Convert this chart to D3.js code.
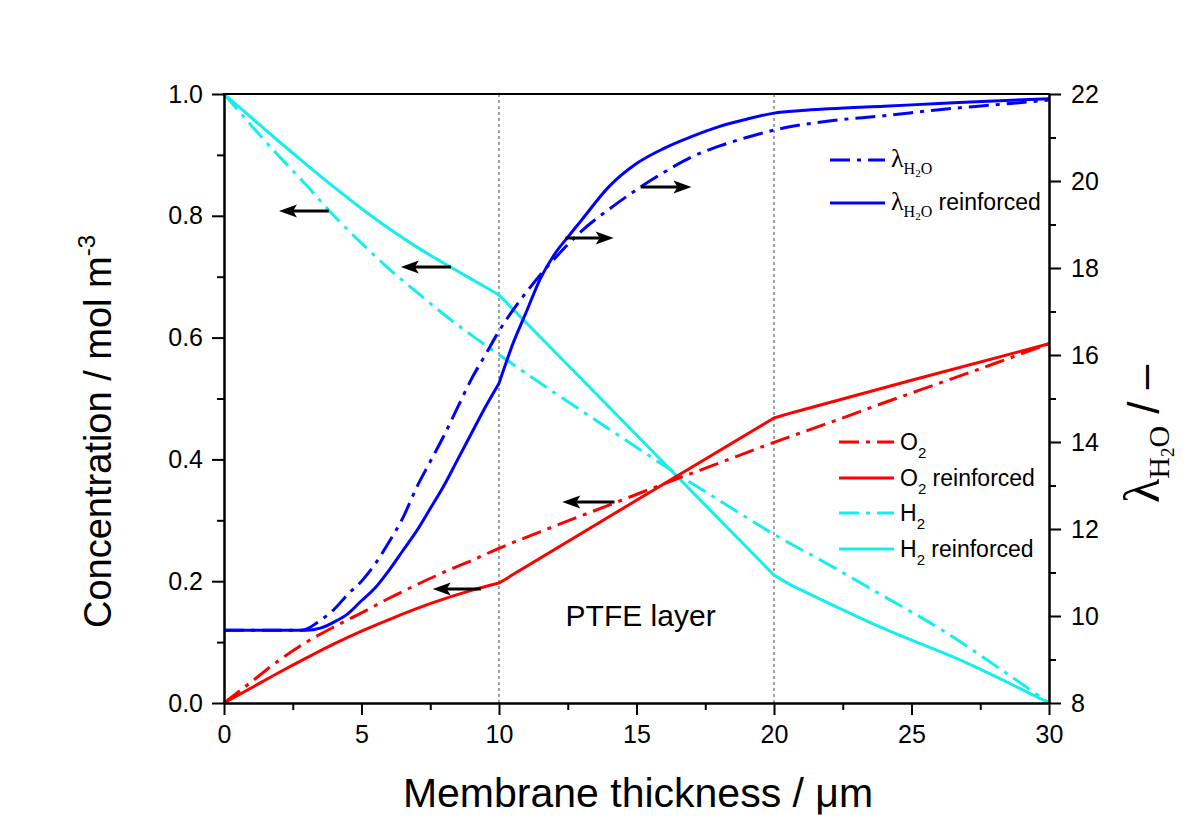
<!DOCTYPE html>
<html><head><meta charset="utf-8">
<script src="https://cdn.jsdelivr.net/npm/d3@7/dist/d3.min.js"></script>
<style>
body{margin:0;background:#fff}
svg{display:block}
text{font-family:Arial,"Liberation Sans",sans-serif;fill:#000}
.serif{font-family:"Liberation Serif","Times New Roman",serif}
</style>
</head><body>
<svg id="c" width="1194" height="836"></svg>
<script>
// ---------- data ----------
const xTicks = [0,5,10,15,20,25,30];
const xMinorTicks = [2.5,7.5,12.5,17.5,22.5,27.5];
const leftTicks = [0,0.2,0.4,0.6,0.8,1.0];
const leftMinorTicks = [0.1,0.3,0.5,0.7,0.9];
const rightTicks = [8,10,12,14,16,18,20,22];
const rightMinorTicks = [9,11,13,15,17,19,21];
const layerBounds = [10,20];

// H2 concentration (left axis)
const h2X = [0,1,2,3,4,5,6,7,8,9,10,12,14,16,18,20,22,24,26,28,30];
const h2Y = [1.0,0.948,0.898,0.85,0.80,0.755,0.713,0.675,0.638,0.604,0.572,0.51,0.45,0.39,0.333,0.277,0.227,0.175,0.123,0.063,0];
const h2ReinfX = [0,1,2,3,4,5,6,7,8,9,10,15,20,20.6,24,27,30];
const h2ReinfY = [1.0,0.961,0.922,0.884,0.847,0.812,0.779,0.749,0.722,0.696,0.670,0.440,0.210,0.194,0.122,0.066,0];

// O2 concentration (left axis)
const o2X = [0,1,2,3,4,5,6,7,8,9,10,12,14,16,18,20,22,24,26,28,30];
const o2Y = [0,0.035,0.07,0.10,0.125,0.148,0.172,0.194,0.215,0.234,0.254,0.29,0.325,0.36,0.394,0.428,0.46,0.493,0.525,0.557,0.59];
const o2ReinfX = [0,1,2,3,4,5,6,7,8,9,10,15,20,20.6,25,30];
const o2ReinfY = [0,0.025,0.05,0.074,0.097,0.118,0.137,0.155,0.171,0.185,0.197,0.333,0.468,0.476,0.53,0.59];

// lambda H2O (right axis)
const lamX = [0,1,2,2.8,3,3.5,4,4.5,5,5.5,6,6.5,7,7.5,8,8.5,9,9.5,10,11,12,13,14,15,16,17,18,19,20,22,24,26,28,30];
const lamY = [9.67,9.67,9.67,9.67,9.70,9.9,10.15,10.5,10.8,11.2,11.7,12.25,12.95,13.55,14.15,14.8,15.45,16.0,16.55,17.45,18.2,18.85,19.35,19.8,20.2,20.55,20.8,21.0,21.17,21.38,21.5,21.64,21.75,21.86];
const lamReinfX = [0,1,2,3,3.5,4,4.5,5,5.5,6,6.5,7,7.5,8,8.5,9,9.5,10,10.5,11,11.5,12,12.5,13,14,15,16,17,18,19,20,21,22,24,26,28,30];
const lamReinfY = [9.67,9.67,9.67,9.67,9.72,9.86,10.05,10.35,10.65,11.05,11.5,11.95,12.47,13.0,13.6,14.2,14.8,15.35,16.25,17.0,17.75,18.3,18.71,19.1,19.87,20.4,20.75,21.02,21.25,21.42,21.56,21.62,21.66,21.72,21.78,21.84,21.89];

// arrows: x tail, x head, y value, axis
const arrowXTail = [3.81,8.25,9.34,14.2,12.42,15.15];
const arrowXHead = [2.0,6.43,7.59,12.3,14.17,17.0];
const arrowYVal  = [0.808,0.716,0.187,0.33,18.69,19.86];
const arrowAxis  = ['L','L','L','L','R','R'];

// ---------- setup ----------
const svg = d3.select('#c');
const x = d3.scaleLinear().domain([0,30]).range([224,1049]);
const yL = d3.scaleLinear().domain([0,1]).range([703,94]);
const yR = d3.scaleLinear().domain([8,22]).range([703,94]);

const BLUE='#0000ff', RED='#ff0000', CYAN='#16eded';
const DASHDOT='20,7,4,7';

const series = [
  {x:h2X, y:h2Y, sc:yL, color:CYAN, dash:DASHDOT, breaks:[]},
  {x:h2ReinfX, y:h2ReinfY, sc:yL, color:CYAN, dash:null, breaks:[10,20,20.6]},
  {x:o2X, y:o2Y, sc:yL, color:RED, dash:DASHDOT, breaks:[]},
  {x:o2ReinfX, y:o2ReinfY, sc:yL, color:RED, dash:null, breaks:[10,20,20.6]},
  {x:lamX, y:lamY, sc:yR, color:BLUE, dash:DASHDOT, breaks:[]},
  {x:lamReinfX, y:lamReinfY, sc:yR, color:BLUE, dash:null, breaks:[10]},
];

// dashed layer boundaries
svg.selectAll('line.bound').data(layerBounds).enter().append('line')
  .attr('x1',d=>x(d)).attr('x2',d=>x(d)).attr('y1',yL(1)).attr('y2',yL(0))
  .attr('stroke','#444').attr('stroke-width',1).attr('stroke-dasharray','3,3');

// curves (smooth between kinks, sharp at kinks)
series.forEach(s=>{
  const pts = s.x.map((v,i)=>[v,s.y[i]]);
  const segs = [];
  let cur = [];
  pts.forEach(p=>{
    cur.push(p);
    if(s.breaks.includes(p[0])){ segs.push(cur); cur=[p]; }
  });
  if(cur.length>1) segs.push(cur);
  const line = d3.line().x(d=>x(d[0])).y(d=>s.sc(d[1])).curve(d3.curveMonotoneX);
  const d = segs.map((sg,k)=>{
    const p = line(sg);
    return k===0 ? p : p.replace(/^M[^LC]*/, 'L'+x(sg[0][0])+','+s.sc(sg[0][1]));
  }).join('');
  svg.append('path').attr('d',d).attr('fill','none')
    .attr('stroke',s.color).attr('stroke-width',3)
    .attr('stroke-dasharray',s.dash).attr('stroke-linejoin','round');
});

// arrows
arrowXTail.forEach((xt,i)=>{
  const sc = arrowAxis[i]==='L'?yL:yR;
  const y0 = sc(arrowYVal[i]);
  const x0 = x(xt), x1 = x(arrowXHead[i]);
  const dir = Math.sign(x1-x0);
  const headLen = 18, headW = 6.5;
  svg.append('line').attr('x1',x0).attr('x2',x1-dir*(headLen-4)).attr('y1',y0).attr('y2',y0)
    .attr('stroke','#000').attr('stroke-width',3);
  svg.append('path').attr('d',`M${x1},${y0} L${x1-dir*headLen},${y0-headW} L${x1-dir*(headLen-4)},${y0} L${x1-dir*headLen},${y0+headW} Z`)
    .attr('fill','#000');
});

// axes
function styleAxis(g){
  g.select('.domain').attr('stroke','#000').attr('stroke-width',2);
  g.selectAll('.tick line').attr('stroke','#000').attr('stroke-width',2);
  g.selectAll('.tick text').attr('font-size',25).attr('font-family','Arial, "Liberation Sans", sans-serif').attr('fill','#000');
}
const gL = svg.append('g').attr('transform',`translate(${x(0)},0)`)
  .call(d3.axisLeft(yL).tickValues(leftTicks).tickFormat(d3.format('.1f')).tickSize(12).tickSizeOuter(0).tickPadding(9));
styleAxis(gL);
const gLm = svg.append('g').attr('transform',`translate(${x(0)},0)`)
  .call(d3.axisLeft(yL).tickValues(leftMinorTicks).tickFormat('').tickSize(7).tickSizeOuter(0));
styleAxis(gLm);

const gB = svg.append('g').attr('transform',`translate(0,${yL(0)})`)
  .call(d3.axisBottom(x).tickValues(xTicks).tickFormat(d3.format('d')).tickSize(12).tickSizeOuter(0).tickPadding(10));
styleAxis(gB);
const gBm = svg.append('g').attr('transform',`translate(0,${yL(0)})`)
  .call(d3.axisBottom(x).tickValues(xMinorTicks).tickFormat('').tickSize(7).tickSizeOuter(0));
styleAxis(gBm);

const gR = svg.append('g').attr('transform',`translate(${x(30)},0)`)
  .call(d3.axisRight(yR).tickValues(rightTicks).tickFormat(d3.format('d')).tickSize(12).tickSizeOuter(0).tickPadding(10));
styleAxis(gR);
const gRm = svg.append('g').attr('transform',`translate(${x(30)},0)`)
  .call(d3.axisRight(yR).tickValues(rightMinorTicks).tickFormat('').tickSize(7).tickSizeOuter(0));
styleAxis(gRm);

// top frame
svg.append('line').attr('x1',x(0)-1).attr('x2',x(30)+1).attr('y1',yL(1)).attr('y2',yL(1))
  .attr('stroke','#000').attr('stroke-width',2);

// axis titles
svg.append('text').attr('x',638).attr('y',807).attr('text-anchor','middle').attr('font-size',41)
  .text('Membrane thickness / μm');

const lt = svg.append('text').attr('transform','translate(111,628) rotate(-90)').attr('font-size',38);
lt.append('tspan').text('Concentration / mol m');
lt.append('tspan').attr('font-size',24).attr('dy',-16).text('-3');

const rt = svg.append('text').attr('transform','translate(1159,503) rotate(-90)');
rt.append('tspan').attr('class','serif').attr('font-size',50).text('λ');
rt.append('tspan').attr('class','serif').attr('font-size',30).attr('dy',10).text('H');
rt.append('tspan').attr('class','serif').attr('font-size',19).attr('dy',5).text('2');
rt.append('tspan').attr('class','serif').attr('font-size',30).attr('dy',-5).text('O');
rt.append('tspan').attr('font-size',44).attr('dy',-10).text(' / –');

// PTFE label
svg.append('text').attr('x',x(15.15)).attr('y',626).attr('text-anchor','middle').attr('font-size',30).text('PTFE layer');

// legends
const legLamSuffix = ['', ' reinforced'];
const legLamDash = [DASHDOT, null];
const legLamY = [160,203];
legLamSuffix.forEach((suffix,i)=>{
  const yy = legLamY[i];
  svg.append('line').attr('x1',830).attr('x2',885).attr('y1',yy).attr('y2',yy)
    .attr('stroke',BLUE).attr('stroke-width',3).attr('stroke-dasharray',legLamDash[i]);
  const t = svg.append('text').attr('x',891).attr('y',yy+7);
  t.append('tspan').attr('class','serif').attr('font-size',26).text('λ');
  t.append('tspan').attr('class','serif').attr('font-size',16).attr('dy',7).text('H');
  t.append('tspan').attr('class','serif').attr('font-size',11).attr('dy',3).text('2');
  t.append('tspan').attr('class','serif').attr('font-size',16).attr('dy',-3).text('O');
  if(suffix) t.append('tspan').attr('font-size',23).attr('dy',-7).text(suffix);
});

const legGasSym = ['O','O','H','H'];
const legGasColor = [RED,RED,CYAN,CYAN];
const legGasDash = [DASHDOT,null,DASHDOT,null];
const legGasSuffix = ['',' reinforced','',' reinforced'];
const legGasY = [442,478,513,549];
legGasSym.forEach((sym,i)=>{
  const yy = legGasY[i];
  svg.append('line').attr('x1',839).attr('x2',894).attr('y1',yy).attr('y2',yy)
    .attr('stroke',legGasColor[i]).attr('stroke-width',3).attr('stroke-dasharray',legGasDash[i]);
  const t = svg.append('text').attr('x',900).attr('y',yy+8).attr('font-size',23);
  t.append('tspan').text(sym);
  t.append('tspan').attr('font-size',15).attr('dy',8).text('2');
  if(legGasSuffix[i]) t.append('tspan').attr('dy',-8).text(legGasSuffix[i]);
});
</script>
</body></html>
